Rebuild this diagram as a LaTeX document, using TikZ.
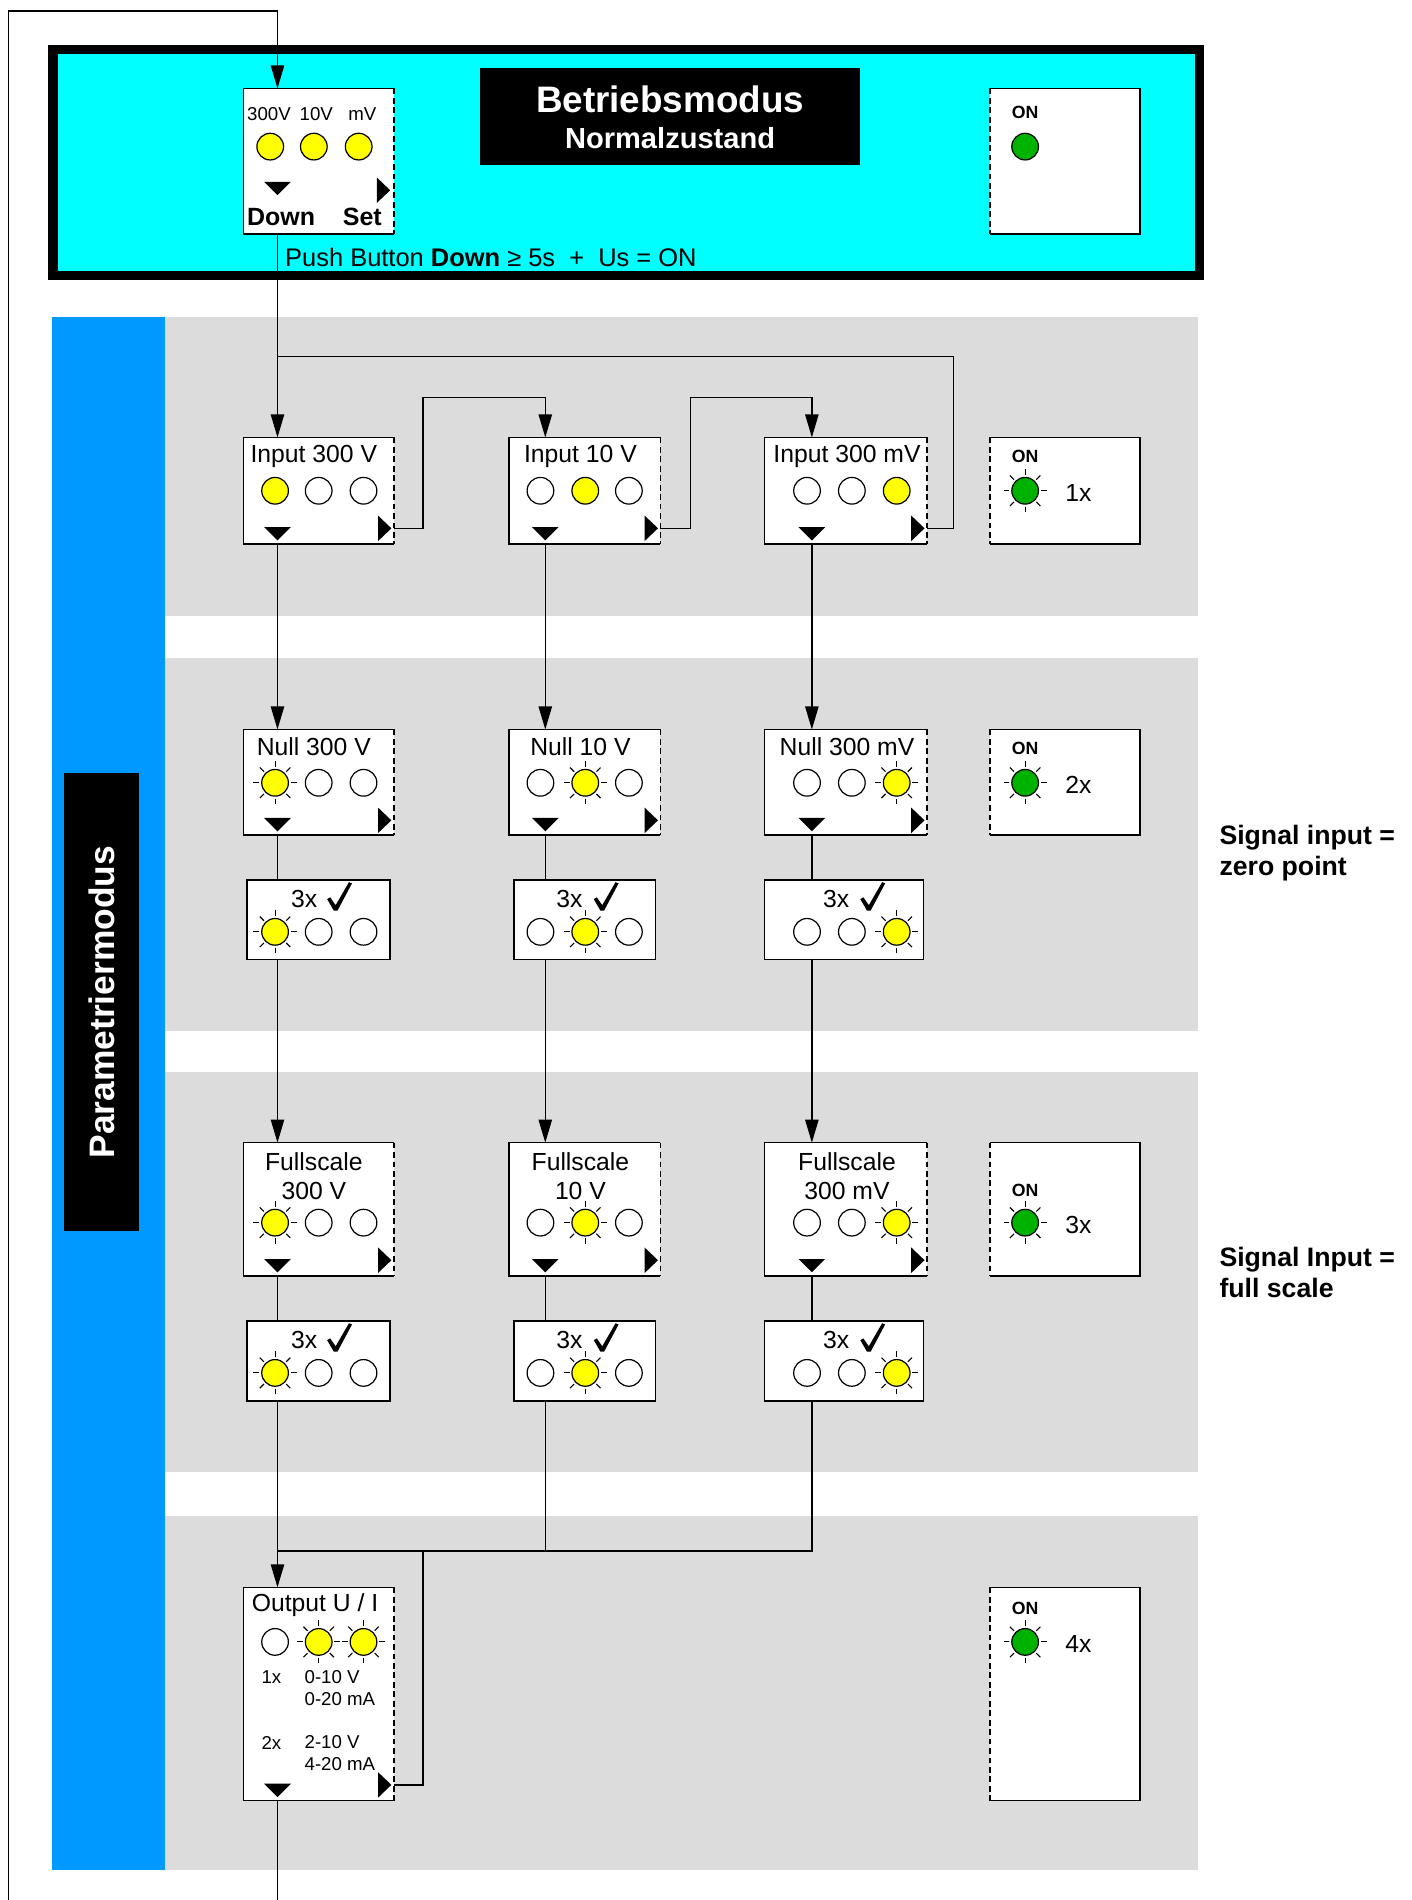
\documentclass[tikz,border=0pt]{standalone}
\usepackage{fontspec}
\setmainfont{Liberation Sans}
\usetikzlibrary{arrows.meta,fit,calc}

\definecolor{cyanbg}{RGB}{0,255,255}
\definecolor{bluebar}{RGB}{0,153,255}
\definecolor{bandgray}{RGB}{220,220,220}
\definecolor{ledyellow}{RGB}{255,255,0}
\definecolor{ledgreen}{RGB}{0,178,0}

\tikzset{
  conn/.style={line width=0.55pt},
  arr/.style={line width=0.55pt,-{Triangle[length=9.5pt,width=5.5pt]}},
  edgeline/.style={line width=0.65pt},
  dashedge/.style={line width=0.65pt,dash pattern=on 2.4pt off 1.5pt},
  boxfill/.style={fill=white,inner sep=0pt,outer sep=0pt,draw=none},
  lbl/.style={inner sep=0pt,yshift=-0.8pt,font=\fontsize{10.2}{12}\selectfont},
  tinylbl/.style={inner sep=0pt,font=\fontsize{7.7}{9}\selectfont},
  onlbl/.style={inner sep=0pt,font=\fontsize{7.3}{9}\selectfont\bfseries},
  dslbl/.style={inner sep=0pt,font=\fontsize{10.3}{12}\selectfont\bfseries},
  sig/.style={inner sep=0pt,font=\fontsize{11}{12.5}\selectfont\bfseries,anchor=west,align=left},
}

% boxes: name, corner, corner
\newcommand\BoxRD[3]{%
  \node[boxfill,fit={#2 #3}] (#1) {};
  \draw[edgeline] (#1.north east) -- (#1.north west) -- (#1.south west) -- (#1.south east);
  \draw[dashedge] (#1.north east) -- (#1.south east);}
\newcommand\BoxLD[3]{%
  \node[boxfill,fit={#2 #3}] (#1) {};
  \draw[edgeline] (#1.north west) -- (#1.north east) -- (#1.south east) -- (#1.south west);
  \draw[dashedge] (#1.north west) -- (#1.south west);}
\newcommand\BoxS[3]{%
  \node[boxfill,fit={#2 #3}] (#1) {};
  \draw[edgeline] (#1.north west) rectangle (#1.south east);}

% LEDs
\newcommand\ledOff[1]{\draw[line width=0.5pt,fill=white] #1 circle (5.5pt);}
\newcommand\ledOn[2][ledyellow]{\draw[line width=0.5pt,fill=#1] #2 circle (5.5pt);}
\newcommand\ledBlink[2][ledyellow]{%
  \foreach \a in {0,45,...,315}{\draw[line width=0.45pt] #2 ++(\a:6.5pt) -- ++(\a:2.4pt);}%
  \ledOn[#1]{#2}}
% triangles
\newcommand\triDown[1]{\fill #1 ++(-11,-5) -- ++(22,0) -- ++(-11,11) -- cycle;}
\newcommand\triRight[1]{\fill #1 ++(-11,-10.5) -- ++(0,21) -- ++(11,-10.5) -- cycle;}
% check mark, bottom point given
\newcommand\chk[1]{\fill[shift={#1}] (-7,-9) -- (-4.5,-10.5) -- (0,-4) -- (11,-23) -- (13.5,-22) -- (1.5,0.5) -- (-1.5,0.5) -- cycle;}

\begin{document}
\begin{tikzpicture}[x=0.5pt,y=-0.5pt]
\useasboundingbox (0,0) rectangle (1165,1568);
\fill[white] (0,0) rectangle (1165,1568);

% ---------- backgrounds
\fill[bandgray] (136,262) rectangle (989,508);
\fill[bandgray] (136,543) rectangle (989,851);
\fill[bandgray] (136,885) rectangle (989,1215);
\fill[bandgray] (136,1251) rectangle (989,1543);
\fill[bluebar] (43,262) rectangle (136,1543);
\node[fill=black,inner sep=0pt,outer sep=0pt,fit={(53,638) (115,1016)}] (plab) {};
\node[rotate=90,text=white,inner sep=0pt,font=\fontsize{14.6}{16}\selectfont\bfseries] (ptxt) at (plab.center) {Parametriermodus};

% ---------- Betriebsmodus frame
\fill[black] (40,37) rectangle (994,231);
\fill[cyanbg] (47.5,44.5) rectangle (986.5,223.5);
\node[fill=black,inner sep=0pt,outer sep=0pt,fit={(396,56) (710,136)}] (ttl) {};
\node[text=white,inner sep=0pt,font=\fontsize{15.2}{17}\selectfont\bfseries] (ttl1) at (553,82) {Betriebsmodus};
\node[text=white,inner sep=0pt,font=\fontsize{12}{14}\selectfont\bfseries] (ttl2) at (553,114) {Normalzustand};

\BoxRD{top}{(201,73)}{(325,193)}
\node[tinylbl] (tl1) at (222,94) {300V};
\node[tinylbl] (tl2) at (261,94) {10V};
\node[tinylbl] (tl3) at (299,94) {mV};
\ledOn{(223,121)} \ledOn{(259,121)} \ledOn{(296,121)}
\triDown{(229,155)}
\triRight{(322,157)}
\node[dslbl] (tdown) at (232,179) {Down};
\node[dslbl] (tset) at (299,179) {Set};
\node[inner sep=0pt,font=\fontsize{10.5}{12}\selectfont,anchor=west] (push) at (235,212.5) {Push Button \textbf{Down} ≥ 5s\ \ +\ \ Us = ON};

\BoxLD{on0}{(817,73)}{(941,193)}
\node[onlbl] (on0t) at (846,93) {ON};
\ledOn[ledgreen]{(846,121)}

% ---------- Row 1: Input
\BoxRD{in1}{(201,361)}{(325,449)}
\BoxRD{in2}{(420,361)}{(545,449)}
\BoxRD{in3}{(631,361)}{(765,449)}
\node[lbl] (in1t) at (259,375) {Input 300 V};
\node[lbl] (in2t) at (479,375) {Input 10 V};
\node[lbl] (in3t) at (699,375) {Input 300 mV};
\ledOn{(227,405)} \ledOff{(263,405)} \ledOff{(300,405)}
\ledOff{(446,405)} \ledOn{(483,405)} \ledOff{(519,405)}
\ledOff{(666,405)} \ledOff{(703,405)} \ledOn{(740,405)}
\triDown{(229,440)} \triDown{(450,440)} \triDown{(670,440)}
\triRight{(323,436)} \triRight{(543,436)} \triRight{(763,436)}
\BoxLD{on1}{(817,361)}{(941,449)}
\node[onlbl] (on1t) at (846,377) {ON};
\ledBlink[ledgreen]{(846,405)}
\node[lbl] (on1n) at (890,405) {1x};

% ---------- Row 2: Null
\BoxRD{nu1}{(201,602)}{(325,689)}
\BoxRD{nu2}{(420,602)}{(545,689)}
\BoxRD{nu3}{(631,602)}{(765,689)}
\node[lbl] (nu1t) at (259,615) {Null 300 V};
\node[lbl] (nu2t) at (479,615) {Null 10 V};
\node[lbl] (nu3t) at (699,615) {Null 300 mV};
\ledBlink{(227,646)} \ledOff{(263,646)} \ledOff{(300,646)}
\ledOff{(446,646)} \ledBlink{(483,646)} \ledOff{(519,646)}
\ledOff{(666,646)} \ledOff{(703,646)} \ledBlink{(740,646)}
\triDown{(229,680)} \triDown{(450,680)} \triDown{(670,680)}
\triRight{(323,677)} \triRight{(543,677)} \triRight{(763,677)}
\BoxLD{on2}{(817,602)}{(941,689)}
\node[onlbl] (on2t) at (846,618) {ON};
\ledBlink[ledgreen]{(846,646)}
\node[lbl] (on2n) at (890,646) {2x};

\BoxS{oka1}{(204,726)}{(322,792)}
\BoxS{oka2}{(424,726)}{(541,792)}
\BoxS{oka3}{(631,726)}{(762,792)}
\node[lbl] (oka1t) at (251,740) {3x}; \chk{(277,751)}
\node[lbl] (oka2t) at (470,740) {3x}; \chk{(497,751)}
\node[lbl] (oka3t) at (690,740) {3x}; \chk{(717,751)}
\ledBlink{(227,769)} \ledOff{(263,769)} \ledOff{(300,769)}
\ledOff{(446,769)} \ledBlink{(483,769)} \ledOff{(519,769)}
\ledOff{(666,769)} \ledOff{(703,769)} \ledBlink{(740,769)}

\node[sig] (sig1) at (1006,704) {Signal input =\\zero point};

% ---------- Row 3: Fullscale
\BoxRD{fs1}{(201,943)}{(325,1053)}
\BoxRD{fs2}{(420,943)}{(545,1053)}
\BoxRD{fs3}{(631,943)}{(765,1053)}
\node[lbl] (fs1t) at (259,957) {Fullscale};
\node[lbl] (fs1u) at (259,981) {300 V};
\node[lbl] (fs2t) at (479,957) {Fullscale};
\node[lbl] (fs2u) at (479,981) {10 V};
\node[lbl] (fs3t) at (699,957) {Fullscale};
\node[lbl] (fs3u) at (699,981) {300 mV};
\ledBlink{(227,1009)} \ledOff{(263,1009)} \ledOff{(300,1009)}
\ledOff{(446,1009)} \ledBlink{(483,1009)} \ledOff{(519,1009)}
\ledOff{(666,1009)} \ledOff{(703,1009)} \ledBlink{(740,1009)}
\triDown{(229,1044)} \triDown{(450,1044)} \triDown{(670,1044)}
\triRight{(323,1040)} \triRight{(543,1040)} \triRight{(763,1040)}
\BoxLD{on3}{(817,943)}{(941,1053)}
\node[onlbl] (on3t) at (846,982) {ON};
\ledBlink[ledgreen]{(846,1009)}
\node[lbl] (on3n) at (890,1009) {3x};

\BoxS{okb1}{(204,1090)}{(322,1156)}
\BoxS{okb2}{(424,1090)}{(541,1156)}
\BoxS{okb3}{(631,1090)}{(762,1156)}
\node[lbl] (okb1t) at (251,1104) {3x}; \chk{(277,1115)}
\node[lbl] (okb2t) at (470,1104) {3x}; \chk{(497,1115)}
\node[lbl] (okb3t) at (690,1104) {3x}; \chk{(717,1115)}
\ledBlink{(227,1133)} \ledOff{(263,1133)} \ledOff{(300,1133)}
\ledOff{(446,1133)} \ledBlink{(483,1133)} \ledOff{(519,1133)}
\ledOff{(666,1133)} \ledOff{(703,1133)} \ledBlink{(740,1133)}

\node[sig] (sig2) at (1006,1050) {Signal Input =\\full scale};

% ---------- Row 4: Output
\BoxRD{out}{(201,1310)}{(325,1486)}
\node[lbl] (outt) at (260,1323) {Output U / I};
\ledOff{(227,1355)} \ledBlink{(263,1355)} \ledBlink{(300,1355)}
\node[tinylbl] (o1x) at (224,1384) {1x};
\node[tinylbl,anchor=west] (o1a) at (251,1384) {0-10 V};
\node[tinylbl,anchor=west] (o1b) at (251,1402) {0-20 mA};
\node[tinylbl] (o2x) at (224,1438) {2x};
\node[tinylbl,anchor=west] (o2a) at (251,1438) {2-10 V};
\node[tinylbl,anchor=west] (o2b) at (251,1456) {4-20 mA};
\triDown{(229,1477)}
\triRight{(323,1473)}
\BoxLD{on4}{(817,1310)}{(941,1486)}
\node[onlbl] (on4t) at (846,1327) {ON};
\ledBlink[ledgreen]{(846,1355)}
\node[lbl] (on4n) at (890,1355) {4x};

% ---------- connectors
\coordinate (c1) at (229,0);
\coordinate (c2) at (450,0);
\coordinate (c3) at (670,0);
\coordinate (in1s) at ($(in1.south east)+(0,-13)$);
\coordinate (in2s) at ($(in2.south east)+(0,-13)$);
\coordinate (in3s) at ($(in3.south east)+(0,-13)$);
\coordinate (outs) at ($(out.south east)+(0,-13)$);
\coordinate (J1) at (229,294);
\coordinate (J2) at (229,1280);
\coordinate (fbL) at (7,1572);
\coordinate (fbB) at (229,1572);

\draw[arr] (fbL) -- (7,9) -- (229,9) -- (top.north -| c1);
\draw[conn] (out.south -| c1) -- (fbB);
\draw[arr] (top.south -| c1) -- (in1.north -| c1);
\draw[conn] (in3s) -| (787,294) -- (J1);
\draw[arr] (in1s) -| (349,328) -| (in2.north -| c2);
\draw[arr] (in2s) -| (570,328) -| (in3.north -| c3);

\foreach \i/\c in {1/c1,2/c2,3/c3}{
  \draw[arr] (in\i.south -| \c) -- (nu\i.north -| \c);
  \draw[conn] (nu\i.south -| \c) -- (oka\i.north -| \c);
  \draw[arr] (oka\i.south -| \c) -- (fs\i.north -| \c);
  \draw[conn] (fs\i.south -| \c) -- (okb\i.north -| \c);
}
\draw[arr] (okb1.south -| c1) -- (out.north -| c1);
\draw[conn] (okb3.south -| c3) |- (J2);
\draw[conn] (okb2.south -| c2) -- (450,1280);
\draw[conn] (outs) -| (349,1280);
\end{tikzpicture}
\end{document}
